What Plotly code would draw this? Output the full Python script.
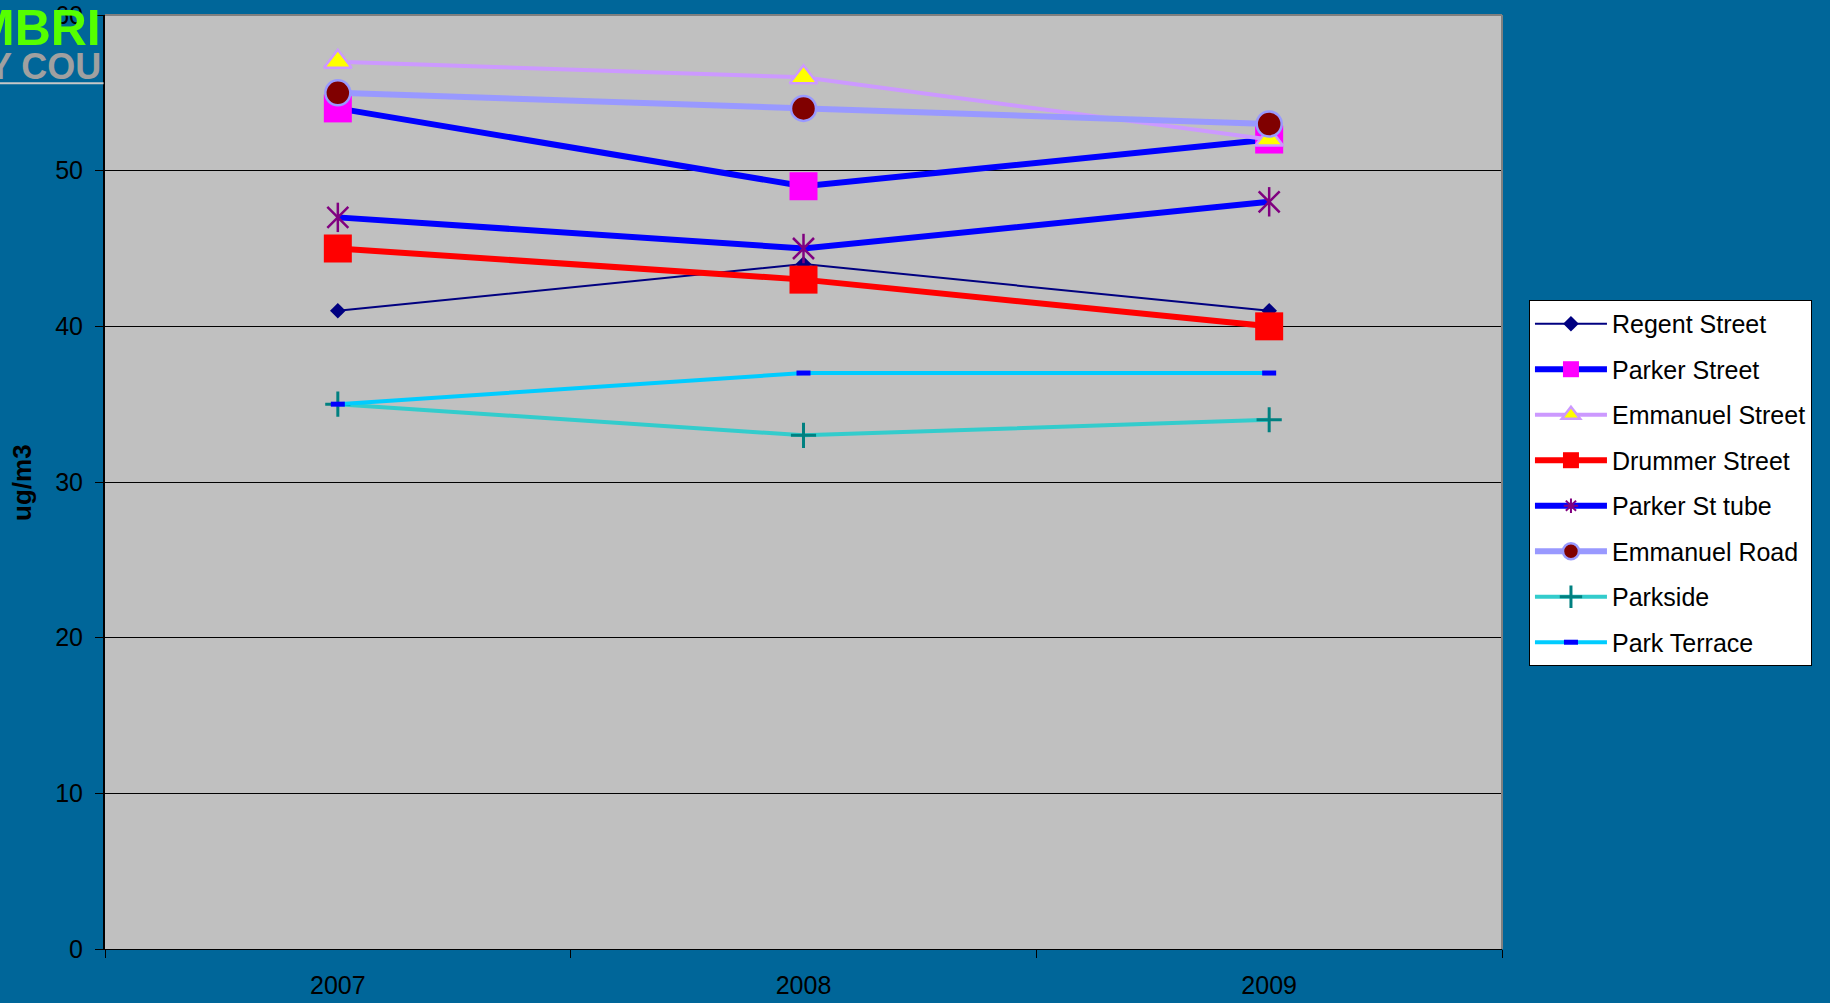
import plotly.graph_objects as go

years = ["2007", "2008", "2009"]
regent_street = [41, 44, 41]
parker_street = [54, 49, 52]
emmanuel_street = [57, 56, 52]
drummer_street = [45, 43, 40]
parker_st_tube = [47, 45, 48]
emmanuel_road = [55, 54, 53]
parkside = [35, 33, 34]
park_terrace = [35, 37, 37]
y_ticks = [0, 10, 20, 30, 40, 50, 60]

series = [
    dict(name="Regent Street", y=regent_street, lc="#000080", lw=2,
         sym="diamond", ms=12, mc="#000080", mlc="#000080", mlw=0),
    dict(name="Parker Street", y=parker_street, lc="#0000FF", lw=6,
         sym="square", ms=28, mc="#FF00FF", mlc="#FF00FF", mlw=0),
    dict(name="Emmanuel Street", y=emmanuel_street, lc="#CC99FF", lw=4,
         sym="triangle-up", ms=24, mc="#FFFF00", mlc="#CC99FF", mlw=2.5),
    dict(name="Drummer Street", y=drummer_street, lc="#FF0000", lw=6,
         sym="square", ms=28, mc="#FF0000", mlc="#FF0000", mlw=0),
    dict(name="Parker St tube", y=parker_st_tube, lc="#0000FF", lw=6,
         sym="asterisk-open", ms=22, mc="#800080", mlc="#800080", mlw=2.5),
    dict(name="Emmanuel Road", y=emmanuel_road, lc="#9999FF", lw=6,
         sym="circle", ms=25, mc="#800000", mlc="#9999FF", mlw=2.5),
    dict(name="Parkside", y=parkside, lc="#33CCCC", lw=4,
         sym="cross-thin-open", ms=18, mc="#008080", mlc="#008080", mlw=3),
    dict(name="Park Terrace", y=park_terrace, lc="#00CCFF", lw=4,
         sym="line-ew-open", ms=10, mc="#0000FF", mlc="#0000FF", mlw=5),
]

fig = go.Figure()
for i, s in enumerate(series):
    if s["sym"] == "asterisk-open":
        # legend-only entry showing the asterisk symbol
        fig.add_trace(go.Scatter(
            x=[None], y=[None], name=s["name"], mode="lines+markers",
            legendgroup=f"g{i}", showlegend=True,
            line=dict(color=s["lc"], width=s["lw"]),
            marker=dict(symbol="asterisk-open", size=12, color=s["mc"],
                        line=dict(color=s["mlc"], width=2)),
        ))
        # data line with diagonal arms
        fig.add_trace(go.Scatter(
            x=years, y=s["y"], name=s["name"], mode="lines+markers",
            legendgroup=f"g{i}", showlegend=False,
            line=dict(color=s["lc"], width=s["lw"]),
            marker=dict(symbol="x-thin-open", size=21, color=s["mc"],
                        line=dict(color=s["mlc"], width=s["mlw"])),
        ))
        # vertical arm
        fig.add_trace(go.Scatter(
            x=years, y=s["y"], name=s["name"], mode="markers",
            legendgroup=f"g{i}", showlegend=False,
            marker=dict(symbol="line-ns-open", size=21, color=s["mc"],
                        line=dict(color=s["mlc"], width=s["mlw"])),
        ))
        continue
    fig.add_trace(go.Scatter(
        x=years, y=s["y"], name=s["name"], mode="lines+markers",
        legendgroup=f"g{i}",
        line=dict(color=s["lc"], width=s["lw"]),
        marker=dict(symbol=s["sym"], size=s["ms"], color=s["mc"],
                    line=dict(color=s["mlc"], width=s["mlw"])),
    ))

FONT = "Liberation Sans, Arial, sans-serif"

fig.update_layout(
    width=1830, height=1003,
    margin=dict(l=105, r=328, t=15, b=54),
    paper_bgcolor="#006699",
    plot_bgcolor="#C0C0C0",
    font=dict(family=FONT, size=25, color="black"),
    showlegend=True,
    legend=dict(
        x=1.0193, y=0.6949, xanchor="left", yanchor="top",
        bgcolor="white", bordercolor="black", borderwidth=1,
        font=dict(family=FONT, size=25, color="black"),
        itemwidth=72, tracegroupgap=10, traceorder="grouped",
    ),
    xaxis=dict(
        type="category", range=[-0.5, 2.5], tickson="boundaries",
        ticks="outside", ticklen=8, tickcolor="black", tickwidth=1,
        showline=True, linecolor="black", linewidth=1,
        showgrid=False, zeroline=False, automargin=False,
        ticklabelstandoff=14,
        tickfont=dict(family=FONT, size=25, color="black"),
    ),
    yaxis=dict(
        range=[0, 60], tickvals=y_ticks, ticktext=[str(v) for v in y_ticks],
        ticks="outside", ticklen=8, tickcolor="black", tickwidth=1,
        showline=True, linecolor="black", linewidth=2,
        showgrid=True, gridcolor="black", gridwidth=1, zeroline=False,
        automargin=False, ticklabelstandoff=7,
        tickfont=dict(family=FONT, size=25, color="black"),
    ),
    shapes=[
        dict(type="line", xref="paper", yref="paper", x0=0, x1=1, y0=1, y1=1,
             line=dict(color="#808080", width=2)),
        dict(type="line", xref="paper", yref="paper", x0=1, x1=1, y0=0, y1=1,
             line=dict(color="#808080", width=2)),
        dict(type="line", xref="paper", yref="paper", x0=-0.0752, x1=-0.001,
             y0=0.927, y1=0.927, line=dict(color="#C8C8C8", width=2)),
    ],
    annotations=[
        dict(text="<b>ug/m3</b>", xref="paper", yref="paper", x=0, y=0.499,
             xshift=-83, xanchor="center", yanchor="middle", textangle=-90,
             showarrow=False, font=dict(family=FONT, size=26, color="black")),
        dict(text="<b>MBRI</b>", xref="paper", yref="paper", x=0, y=0.986,
             xshift=-2, xanchor="right", yanchor="middle", showarrow=False,
             font=dict(family=FONT, size=50, color="#55FF00")),
        dict(text="<b>Y COU</b>", xref="paper", yref="paper", x=0, y=0.945,
             xshift=-2, xanchor="right", yanchor="middle", showarrow=False,
             font=dict(family=FONT, size=36, color="#A0A0A0")),
    ],
)

fig.write_html(
    "out.html",
    config={"displayModeBar": False},
    post_script="document.body.style.margin='0';document.body.style.overflow='hidden';",
)
